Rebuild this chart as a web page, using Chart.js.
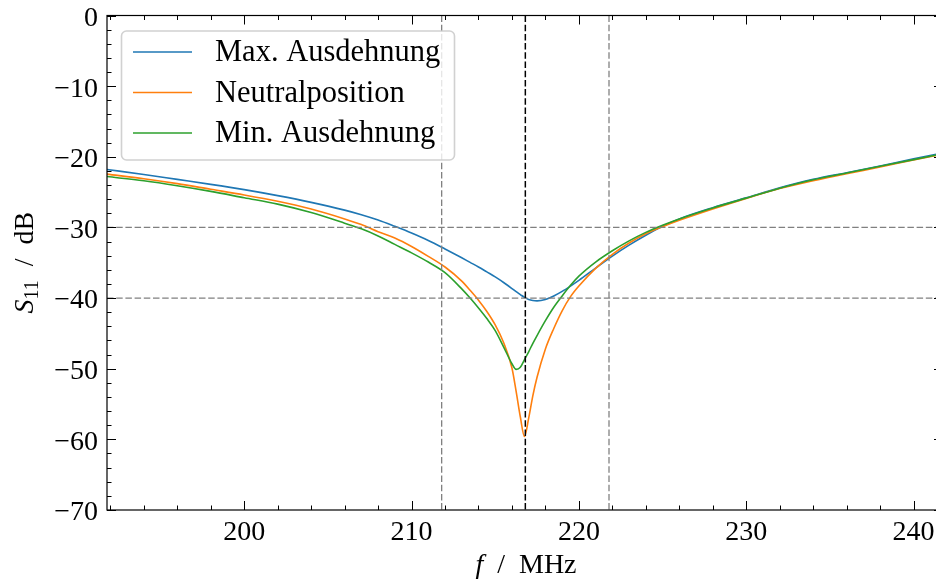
<!DOCTYPE html>
<html>
<head>
<meta charset="utf-8">
<script src="https://cdn.jsdelivr.net/npm/chart.js@4.4.1/dist/chart.umd.min.js"></script>
<style>
  html, body { margin: 0; padding: 0; background: #ffffff; overflow: hidden; }
  #frame { width: 936px; height: 585px; overflow: hidden; }
</style>
</head>
<body>
<div id="frame"><canvas id="s11" width="943" height="585"></canvas></div>
<script>
// frequency grid of the sweep (MHz)
const FREQ = [
  191.8, 194, 196, 198, 200, 202, 204, 206, 207, 208, 209, 210, 211, 212, 213,
  213.5, 214, 214.5, 215, 215.5, 216, 216.25, 216.5, 216.75, 217, 217.25, 217.5,
  218, 218.5, 219, 219.5, 220, 221, 222, 223, 224, 225, 226, 228, 230, 232, 234,
  236, 238, 240, 241.8,
];

// S11 in dB for the three positions
const MAX_EXP = [
  -21.8, -22.5, -23.2, -23.9, -24.65, -25.5, -26.45, -27.55, -28.2, -28.95,
  -29.85, -30.8, -31.85, -33.05, -34.3, -34.95, -35.6, -36.3, -37.0, -37.8,
  -38.65, -39.1, -39.5, -39.9, -40.2, -40.35, -40.4, -40.2, -39.7, -39.05,
  -38.3, -37.5, -35.75, -34.05, -32.5, -31.1, -29.85, -28.8, -27.2, -25.8,
  -24.4, -23.2, -22.25, -21.3, -20.3, -19.45,
];
const NEUTRAL = [
  -22.45, -23.1, -23.8, -24.6, -25.4, -26.3, -27.4, -28.8, -29.6, -30.6, -31.5,
  -32.7, -34.1, -35.6, -37.6, -38.9, -40.3, -41.9, -43.8, -46.3, -49.9, -53.2,
  -56.8, -59.6, -57.0, -53.8, -51.2, -47.2, -44.3, -41.8, -39.8, -38.3, -35.8,
  -33.8, -32.2, -30.9, -29.9, -29.0, -27.4, -25.9, -24.5, -23.4, -22.4, -21.45,
  -20.45, -19.6,
];
const MIN_EXP = [
  -22.8, -23.4, -24.1, -24.9, -25.8, -26.7, -27.9, -29.4, -30.2, -31.2, -32.4,
  -33.6, -34.9, -36.4, -38.7, -40.0, -41.4, -42.9, -44.6, -46.9, -49.3, -50.1,
  -49.8, -48.7, -47.6, -46.4, -45.3, -43.2, -41.3, -39.7, -38.2, -36.9, -34.9,
  -33.3, -31.9, -30.7, -29.7, -28.8, -27.25, -25.85, -24.45, -23.25, -22.3,
  -21.35, -20.4, -19.55,
];

const LABELS = ["Max. Ausdehnung", "Neutralposition", "Min. Ausdehnung"];
const COLORS = ["#1f77b4", "#ff7f0e", "#2ca02c"];

const X_TICKS = [200, 210, 220, 230, 240];
const Y_TICKS = [-70, -60, -50, -40, -30, -20, -10, 0];

// marker lines: limits in dB, band edges and centre in MHz
const LIMITS_DB = [-30, -40];
const BAND_EDGES = [211.8, 221.8];
const CENTER_FREQ = 216.8;

const FONT = "'Liberation Serif', 'Times New Roman', serif";

const toPoints = (ys) => FREQ.map((f, i) => ({ x: f, y: ys[i] }));
const minus = (v) => (v < 0 ? "\u2212" + Math.abs(v) : String(v));

function line(ctx, x1, y1, x2, y2) {
  ctx.beginPath();
  ctx.moveTo(x1, y1);
  ctx.lineTo(x2, y2);
  ctx.stroke();
}

const markers = {
  id: "markers",
  afterDatasetsDraw(chart) {
    const { ctx, chartArea: a, scales } = chart;
    ctx.save();
    ctx.beginPath();
    ctx.rect(a.left, a.top, a.right - a.left, a.bottom - a.top);
    ctx.clip();
    ctx.lineWidth = 1.3;
    ctx.strokeStyle = "#808080";
    ctx.setLineDash([6.5, 2.7]);
    LIMITS_DB.forEach((v) => {
      const py = scales.y.getPixelForValue(v);
      line(ctx, a.left, py, a.right, py);
    });
    BAND_EDGES.forEach((v) => {
      const px = scales.x.getPixelForValue(v);
      line(ctx, px, a.top, px, a.bottom);
    });
    ctx.strokeStyle = "#000000";
    ctx.lineWidth = 1.5;
    const cx = scales.x.getPixelForValue(CENTER_FREQ);
    line(ctx, cx, a.top, cx, a.bottom);
    ctx.restore();
  },
  afterDraw(chart) {
    const { ctx, chartArea: a, scales } = chart;
    ctx.save();

    // spines
    ctx.strokeStyle = "#000000";
    ctx.lineWidth = 1.2;
    ctx.strokeRect(a.left, a.top, a.right - a.left, a.bottom - a.top);

    // inward ticks on all four sides
    ctx.lineWidth = 1;
    for (let v = 192; v <= 241; v += 2) {
      const px = Math.round(scales.x.getPixelForValue(v)) + 0.5;
      const len = v % 10 === 0 ? 9 : 4.5;
      line(ctx, px, a.bottom, px, a.bottom - len);
      line(ctx, px, a.top, px, a.top + len);
    }
    for (let v = -70; v <= 0; v += 2) {
      const py = Math.round(scales.y.getPixelForValue(v)) + 0.5;
      const len = v % 10 === 0 ? 9 : 4.5;
      line(ctx, a.left, py, a.left + len, py);
      line(ctx, a.right, py, a.right - len, py);
    }

    // axis titles
    ctx.fillStyle = "#000000";
    ctx.textBaseline = "alphabetic";
    ctx.textAlign = "left";
    const big = "28px " + FONT;
    const it = "italic 28px " + FONT;
    const sub = "20px " + FONT;

    ctx.font = it;
    const wf = ctx.measureText("f").width;
    ctx.font = big;
    const wRest = ctx.measureText("  /  MHz").width;
    const x0 = 526 - (wf + wRest) / 2;
    ctx.font = it;
    ctx.fillText("f", x0, 573);
    ctx.font = big;
    ctx.fillText("  /  MHz", x0 + wf, 573);

    ctx.save();
    ctx.translate(33, (a.top + a.bottom) / 2);
    ctx.rotate(-Math.PI / 2);
    ctx.font = it;
    const wS = ctx.measureText("S").width;
    ctx.font = sub;
    const w11 = ctx.measureText("11").width;
    ctx.font = big;
    const wdB = ctx.measureText("  /  dB").width;
    const u = -(wS + w11 + wdB) / 2;
    ctx.font = it;
    ctx.fillText("S", u, 0);
    ctx.font = sub;
    ctx.fillText("11", u + wS, 5);
    ctx.font = big;
    ctx.fillText("  /  dB", u + wS + w11, 0);
    ctx.restore();

    // legend
    const bx = 121.5, by = 31, bw = 333, bh = 129;
    ctx.beginPath();
    ctx.roundRect(bx, by, bw, bh, 5);
    ctx.fillStyle = "rgba(255,255,255,0.8)";
    ctx.fill();
    ctx.strokeStyle = "rgba(204,204,204,0.9)";
    ctx.lineWidth = 1.6;
    ctx.stroke();
    ctx.font = "30.5px " + FONT;
    ctx.textBaseline = "middle";
    chart.data.datasets.forEach((ds, i) => {
      const ly = 52 + i * 40.5;
      ctx.strokeStyle = ds.borderColor;
      ctx.lineWidth = 1.6;
      line(ctx, 133, ly, 192, ly);
      ctx.fillStyle = "#000000";
      ctx.fillText(ds.label, 215, ly + 1);
    });
    ctx.restore();
  },
};

new Chart(document.getElementById("s11"), {
  type: "line",
  data: {
    datasets: [MAX_EXP, NEUTRAL, MIN_EXP].map((ys, i) => ({
      label: LABELS[i],
      data: toPoints(ys),
      borderColor: COLORS[i],
      borderWidth: 1.6,
      pointRadius: 0,
      cubicInterpolationMode: "monotone",
      order: 3 - i,
    })),
  },
  options: {
    responsive: false,
    animation: false,
    devicePixelRatio: 1,
    layout: { padding: { top: 15.5, right: 0, bottom: 0, left: 0 } },
    plugins: { legend: { display: false }, tooltip: { enabled: false } },
    scales: {
      x: {
        type: "linear",
        min: 191.8,
        max: 241.76,
        grid: { display: false, drawTicks: false },
        border: { display: false },
        afterBuildTicks: (s) => { s.ticks = X_TICKS.map((v) => ({ value: v })); },
        afterFit: (s) => {
          s.height = 75;
          s.paddingLeft = 0;
          s.paddingRight = 0;
        },
        ticks: {
          padding: 6,
          color: "#000000",
          font: { family: FONT, size: 28 },
          maxRotation: 0,
          autoSkip: false,
          callback: (v) => minus(v),
        },
      },
      y: {
        min: -70,
        max: 0,
        grid: { display: false, drawTicks: false },
        border: { display: false },
        afterBuildTicks: (s) => { s.ticks = Y_TICKS.map((v) => ({ value: v })); },
        afterFit: (s) => {
          s.width = 107;
          s.paddingTop = 0;
          s.paddingBottom = 0;
        },
        ticks: {
          padding: 9,
          labelOffset: 3,
          color: "#000000",
          font: { family: FONT, size: 28 },
          autoSkip: false,
          callback: (v) => minus(v),
        },
      },
    },
  },
  plugins: [markers],
});
</script>
</body>
</html>
